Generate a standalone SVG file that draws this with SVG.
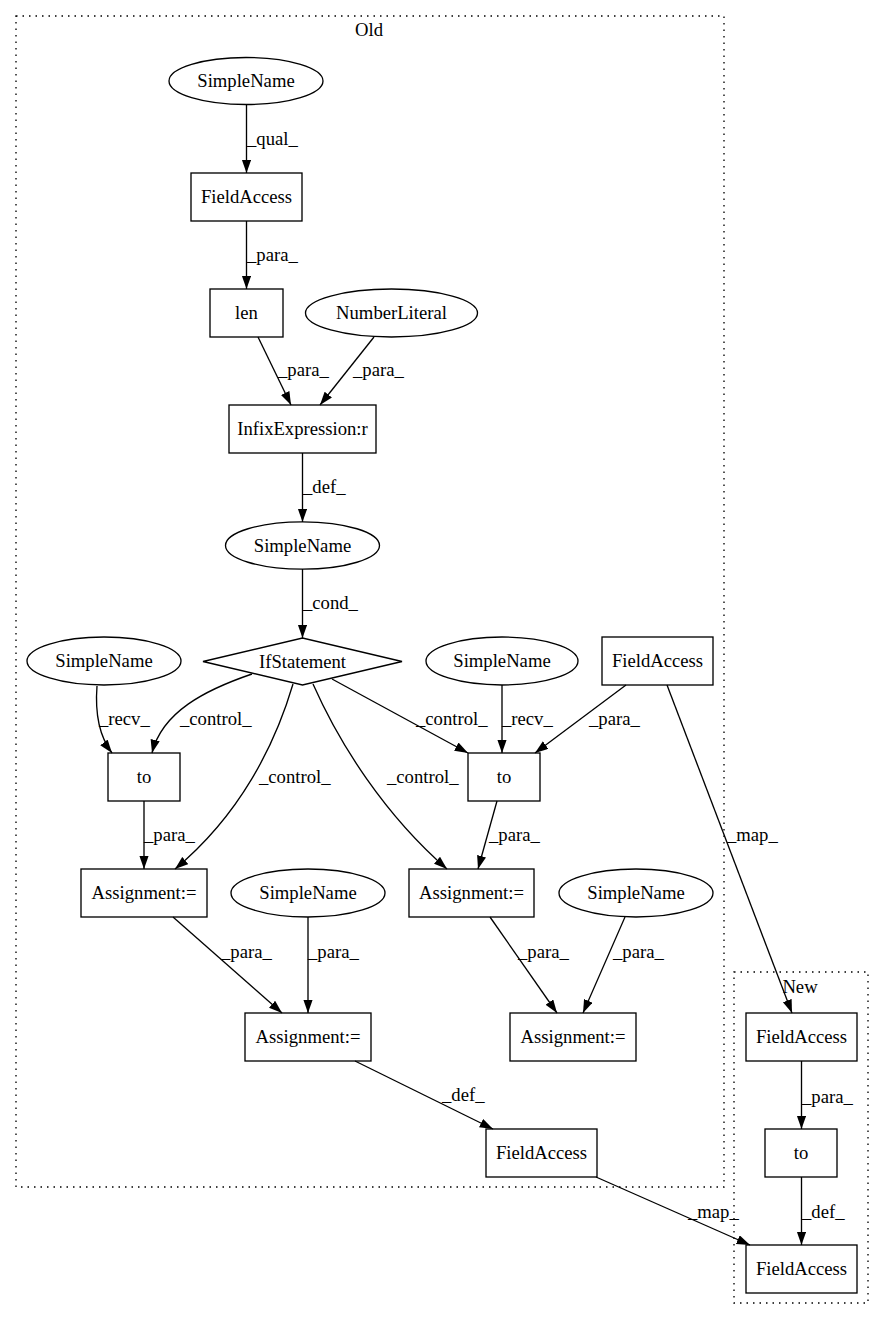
<svg xmlns="http://www.w3.org/2000/svg" width="884" height="1320" viewBox="0 0 884 1320">
<defs>
<style>
text{font-family:"Liberation Serif","Times New Roman",serif;font-size:18.67px;fill:#000}
.n{text-anchor:middle}
.shape{fill:none;stroke:#000;stroke-width:1.33}
.cl{fill:none;stroke:#000;stroke-width:1.33;stroke-dasharray:1.5,5}
.e{fill:none;stroke:#000;stroke-width:1.33;marker-end:url(#ah)}
</style>
<marker id="ah" markerWidth="14" markerHeight="10" refX="13.3" refY="4.67" orient="auto" markerUnits="userSpaceOnUse">
<path d="M0,0 L13.3,4.67 L0,9.33 z" fill="#000"/>
</marker>
</defs>
<rect width="884" height="1320" fill="#fff"/>
<g id="cluster_old">
<rect class="cl" x="16" y="16" width="708" height="1171"/>
<text class="n" x="369" y="36">Old</text>
</g>
<g id="cluster_new">
<rect class="cl" x="734" y="972" width="134" height="331"/>
<text class="n" x="800" y="993">New</text>
</g>
<g id="edges">
<path class="e" d="M246.5,105 L246.5,173"/>
<text x="247" y="145">_qual_</text>
<path class="e" d="M246.5,221 L246.5,289"/>
<text x="247" y="261">_para_</text>
<path class="e" d="M258,337 L291,405"/>
<text x="278" y="376">_para_</text>
<path class="e" d="M374,337 L320,405"/>
<text x="353" y="376">_para_</text>
<path class="e" d="M302.5,453 L302.5,522"/>
<text x="303" y="493">_def_</text>
<path class="e" d="M302.5,569 L302.5,638"/>
<text x="303" y="609">_cond_</text>
<path class="e" d="M97,686 C95,712 99,736 112,753"/>
<text x="99" y="725">_recv_</text>
<path class="e" d="M252,674 C205,690 162,712 152,753"/>
<text x="180" y="725">_control_</text>
<path class="e" d="M293,684 C275,745 240,815 175,869"/>
<text x="259" y="783">_control_</text>
<path class="e" d="M313,684 C340,745 385,815 447,869"/>
<text x="387" y="783">_control_</text>
<path class="e" d="M332,679 L468,753"/>
<text x="416" y="725">_control_</text>
<path class="e" d="M502,685 L502,753"/>
<text x="502" y="725">_recv_</text>
<path class="e" d="M626,685 L535,753"/>
<text x="589" y="725">_para_</text>
<path class="e" d="M667,685 L792,1013"/>
<text x="727" y="841">_map_</text>
<path class="e" d="M144,801 L144,869"/>
<text x="144" y="841">_para_</text>
<path class="e" d="M497,801 L478,869"/>
<text x="489" y="841">_para_</text>
<path class="e" d="M173,917 L282,1013"/>
<text x="221" y="958">_para_</text>
<path class="e" d="M308,917 L308,1013"/>
<text x="308" y="958">_para_</text>
<path class="e" d="M490,917 L557,1013"/>
<text x="518" y="958">_para_</text>
<path class="e" d="M625,917 L583,1013"/>
<text x="613" y="958">_para_</text>
<path class="e" d="M355,1061 L493,1129"/>
<text x="442" y="1101">_def_</text>
<path class="e" d="M596,1177 L750,1245"/>
<text x="688" y="1218">_map_</text>
<path class="e" d="M801.5,1061 L801.5,1129"/>
<text x="802" y="1103">_para_</text>
<path class="e" d="M801.5,1177 L801.5,1245"/>
<text x="802" y="1218">_def_</text>
</g>
<g id="n_simplename1"><ellipse class="shape" cx="246" cy="81" rx="77" ry="23.5"/><text class="n" x="246" y="87">SimpleName</text></g>
<g id="n_fieldaccess1"><rect class="shape" x="191" y="173" width="111" height="48"/><text class="n" x="246.5" y="203">FieldAccess</text></g>
<g id="n_len"><rect class="shape" x="210" y="289" width="73" height="48"/><text class="n" x="246.5" y="319">len</text></g>
<g id="n_numberliteral"><ellipse class="shape" cx="391.5" cy="313" rx="86" ry="24"/><text class="n" x="391.5" y="319">NumberLiteral</text></g>
<g id="n_infix"><rect class="shape" x="229" y="405" width="147" height="48"/><text class="n" x="302.5" y="435">InfixExpression:r</text></g>
<g id="n_simplename2"><ellipse class="shape" cx="302.5" cy="545.5" rx="77" ry="23.7"/><text class="n" x="302.5" y="551.5">SimpleName</text></g>
<g id="n_if"><polygon class="shape" points="203,661.5 302.5,638 402,661.5 302.5,685"/><text class="n" x="302.5" y="667.5">IfStatement</text></g>
<g id="n_simplename3"><ellipse class="shape" cx="104" cy="661" rx="77" ry="24"/><text class="n" x="104" y="667">SimpleName</text></g>
<g id="n_simplename4"><ellipse class="shape" cx="502" cy="661" rx="76" ry="24"/><text class="n" x="502" y="667">SimpleName</text></g>
<g id="n_fieldaccess2"><rect class="shape" x="602" y="637" width="111" height="48"/><text class="n" x="657.5" y="667">FieldAccess</text></g>
<g id="n_to1"><rect class="shape" x="108" y="753" width="72" height="48"/><text class="n" x="144" y="783">to</text></g>
<g id="n_to2"><rect class="shape" x="468" y="753" width="72" height="48"/><text class="n" x="504" y="783">to</text></g>
<g id="n_assign1"><rect class="shape" x="81" y="869" width="126" height="48"/><text class="n" x="144" y="899">Assignment:=</text></g>
<g id="n_simplename5"><ellipse class="shape" cx="308" cy="893" rx="77" ry="24"/><text class="n" x="308" y="899">SimpleName</text></g>
<g id="n_assign2"><rect class="shape" x="409" y="869" width="125" height="48"/><text class="n" x="471.5" y="899">Assignment:=</text></g>
<g id="n_simplename6"><ellipse class="shape" cx="636" cy="893" rx="77" ry="24"/><text class="n" x="636" y="899">SimpleName</text></g>
<g id="n_assign3"><rect class="shape" x="245" y="1013" width="126" height="48"/><text class="n" x="308" y="1043">Assignment:=</text></g>
<g id="n_assign4"><rect class="shape" x="510" y="1013" width="126" height="48"/><text class="n" x="573" y="1043">Assignment:=</text></g>
<g id="n_fieldaccess3"><rect class="shape" x="486" y="1129" width="111" height="48"/><text class="n" x="541.5" y="1159">FieldAccess</text></g>
<g id="n_new_fieldaccess1"><rect class="shape" x="746" y="1013" width="111" height="48"/><text class="n" x="801.5" y="1043">FieldAccess</text></g>
<g id="n_new_to"><rect class="shape" x="765" y="1129" width="72" height="48"/><text class="n" x="801" y="1159">to</text></g>
<g id="n_new_fieldaccess2"><rect class="shape" x="746" y="1245" width="111" height="48"/><text class="n" x="801.5" y="1275">FieldAccess</text></g>
</svg>
